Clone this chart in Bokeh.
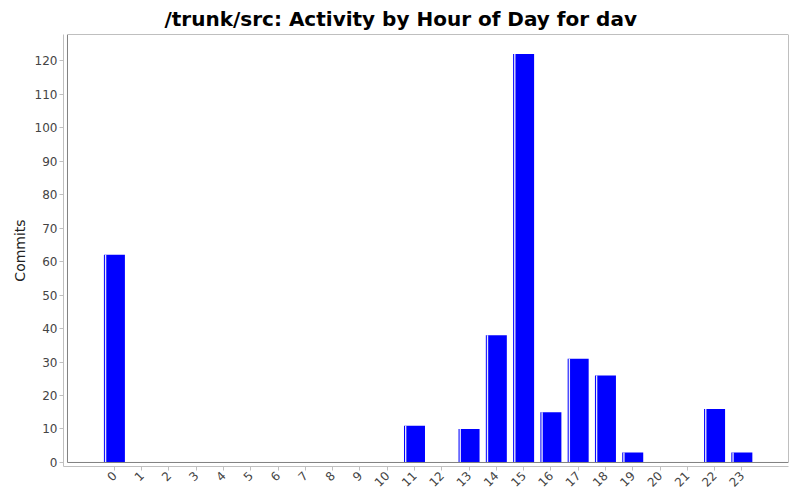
import math
from bokeh.plotting import figure
from bokeh.models import ColumnDataSource, Range1d, FixedTicker, BoxAnnotation
from bokeh.transform import dodge
from bokeh.embed import file_html
from bokeh.resources import INLINE

hours = list(range(24))
hour_labels = [str(h) for h in hours]
commits = [62, 0, 0, 0, 0, 0, 0, 0, 0, 0, 0, 11, 0, 10, 38, 122, 15, 31, 26, 3, 0, 0, 16, 3]
y_ticks = [0, 10, 20, 30, 40, 50, 60, 70, 80, 90, 100, 110, 120]

X_START, X_END = -1.866, 24.71
Y_START, Y_END = -1.2, 127.8

src = ColumnDataSource(data=dict(hour=hours, commits=commits))

p = figure(width=800, height=500, output_backend="svg", toolbar_location=None,
           x_range=Range1d(X_START, X_END), y_range=Range1d(Y_START, Y_END),
           title="/trunk/src: Activity by Hour of Day for dav")
p.title.align = "left"
p.title.offset = 101
p.title.standoff = 8
p.title.text_font = "DejaVu Sans"
p.title.text_font_size = "20px"
p.title.text_font_style = "bold"
p.title.text_color = "#000000"
p.min_border_left = 63
p.min_border_right = 12
p.min_border_top = 0
p.min_border_bottom = 34
p.outline_line_color = None
p.background_fill_color = "white"
p.border_fill_color = "white"
p.grid.visible = False

BAR_W = 0.77
p.vbar(x="hour", top="commits", bottom=0, width=BAR_W, source=src,
       fill_color="#0000ff", line_color=None)
p.vbar(x=dodge("hour", -0.323), top="commits", bottom=0, width=0.05, source=src,
       fill_color="#e8e8ff", line_color=None)

box = BoxAnnotation(left=-1.72, bottom=0, fill_alpha=0, line_color="#808080",
                    line_width=1, line_alpha=1)
p.add_layout(box)

for ax in (p.xaxis[0], p.yaxis[0]):
    ax.axis_line_color = "#c0c0c0"
    ax.major_tick_line_color = "#c0c0c0"
    ax.minor_tick_line_color = None
    ax.major_tick_in = 0
    ax.major_tick_out = 4
    ax.major_label_text_font = "DejaVu Sans"
    ax.major_label_text_font_size = "12px"
    ax.major_label_text_color = "#444444"

p.xaxis[0].ticker = FixedTicker(ticks=hours)
p.xaxis[0].major_label_overrides = {h: l for h, l in zip(hours, hour_labels)}
p.xaxis[0].major_label_orientation = math.pi / 4
p.xaxis[0].major_label_standoff = 3

p.yaxis[0].ticker = FixedTicker(ticks=y_ticks)
p.yaxis[0].major_label_standoff = 2
p.yaxis[0].axis_label = "Commits"
p.yaxis[0].axis_label_standoff = 4
p.yaxis[0].axis_label_text_font = "DejaVu Sans"
p.yaxis[0].axis_label_text_font_size = "14px"
p.yaxis[0].axis_label_text_font_style = "normal"
p.yaxis[0].axis_label_text_color = "#222222"

open("out.html", "w").write(file_html(p, INLINE))
